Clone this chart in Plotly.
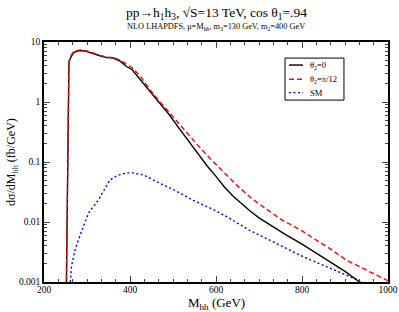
import plotly.graph_objects as go

# Black: theta2 = 0
x_black = [252, 258, 262, 268, 275, 285, 300, 315, 330, 346, 361, 377, 392, 405, 423, 447, 465, 490,
           516, 547, 580, 600, 620, 640, 660, 680, 700, 730, 760, 800, 850, 900, 940]
y_black = [0.0008, 4.6, 5.5, 6.5, 7.0, 7.2, 6.9, 6.3, 5.9, 5.5, 5.4, 4.8, 3.9, 3.45, 2.4, 1.48, 1.07, 0.63,
           0.35, 0.174, 0.085, 0.0575, 0.038, 0.0269, 0.020, 0.0151, 0.01175, 0.0085, 0.0063, 0.00427,
           0.0025, 0.0015, 0.00093]

# Red: theta2 = pi/12
x_red = [252, 258, 262, 268, 275, 285, 300, 315, 330, 346, 361, 377, 392, 405, 423, 447, 470, 500, 530,
         555, 590, 620, 650, 687, 702, 750, 800, 834, 870, 904, 950, 1000]
y_red = [0.0008, 4.7, 5.8, 6.8, 7.2, 7.4, 7.1, 6.5, 6.0, 5.6, 5.5, 5.0, 4.2, 3.7, 2.75, 1.58, 1.0, 0.56, 0.32,
         0.2, 0.107, 0.066, 0.04, 0.0234, 0.0195, 0.0112, 0.0071, 0.005, 0.0034, 0.0023, 0.0016, 0.00105]

# Blue: SM
x_sm = [258, 262, 264, 268, 272, 280, 288, 298, 307, 315, 326, 340, 353, 369, 380, 392, 405, 431, 470, 500,
        547, 590, 625, 679, 702, 750, 795, 822, 872, 927, 940]
y_sm = [0.0005, 0.0011, 0.0018, 0.0025, 0.0034, 0.005, 0.0074, 0.0112, 0.0158, 0.018, 0.023, 0.035, 0.05,
        0.059, 0.063, 0.066, 0.066, 0.061, 0.044, 0.035, 0.023, 0.0166, 0.0123, 0.0072, 0.006, 0.004, 0.0028,
        0.0023, 0.0016, 0.0011, 0.00095]

names = ["θ<sub>2</sub>=0", "θ<sub>2</sub>=π/12", "SM"]
colors = ["black", "#ff0000", "#0000ff"]
dashes = ["solid", "5px,3px", "2px,2.5px"]
widths = [1.4, 1.4, 1.4]
y_tickvals = [0.001, 0.01, 0.1, 1, 10]
y_ticktext = ["0.001", "0.01", "0.1", "1", "10"]
x_tickvals = [200, 400, 600, 800, 1000]

FONT = "Liberation Serif, Times New Roman, serif"

fig = go.Figure()
for xs, ys, nm, c, d, w in zip([x_black, x_red, x_sm], [y_black, y_red, y_sm], names, colors, dashes, widths):
    fig.add_trace(go.Scatter(x=xs, y=ys, mode="lines", name=nm, showlegend=False,
                             line=dict(color=c, width=w, dash=d)))

# Manual legend (box, sample lines, labels) in paper coordinates
shapes = [dict(type="rect", xref="paper", yref="paper", x0=0.7006, x1=0.872, y0=0.758, y1=0.933,
               line=dict(color="black", width=1), fillcolor="white", layer="above")]
annotations = []
leg_y = [0.904, 0.845, 0.789]
for nm, c, d, yy in zip(names, colors, dashes, leg_y):
    shapes.append(dict(type="line", xref="paper", yref="paper", x0=0.712, x1=0.753, y0=yy, y1=yy,
                       line=dict(color=c, width=1.4, dash=d), layer="above"))
    annotations.append(dict(text=nm, xref="paper", yref="paper", x=0.768, y=yy, xanchor="left",
                            yanchor="middle", showarrow=False, font=dict(size=8.5, family=FONT)))

annotations += [
    dict(text="pp→h<sub>1</sub>h<sub>3</sub>, √S=13 TeV, cos θ<sub>1</sub>=.94",
         xref="paper", yref="paper", x=0.5, y=1, yshift=29, xanchor="center", yanchor="middle",
         showarrow=False, font=dict(size=13.5, family=FONT)),
    dict(text="NLO LHAPDFS, μ=M<sub>hh</sub>, m<sub>3</sub>=130 GeV, m<sub>2</sub>=400 GeV",
         xref="paper", yref="paper", x=0.5, y=1, yshift=15, xanchor="center", yanchor="middle",
         showarrow=False, font=dict(size=8.3, family=FONT)),
    dict(text="M<sub>hh</sub> (GeV)", xref="paper", yref="paper", x=0.5, y=0, yshift=-11,
         xanchor="center", yanchor="top", showarrow=False, font=dict(size=13, family=FONT)),
    dict(text="dσ/dM<sub>hh</sub> (fb/GeV)", xref="paper", yref="paper", x=0, y=0.5, xshift=-32,
         xanchor="center", yanchor="middle", textangle=-90, showarrow=False,
         font=dict(size=12, family=FONT)),
]

fig.update_layout(
    width=399, height=312,
    margin=dict(l=44, r=11, t=42, b=30, autoexpand=False),
    paper_bgcolor="white", plot_bgcolor="white",
    font=dict(family=FONT, color="black", size=9.5),
    showlegend=False,
    shapes=shapes,
    annotations=annotations,
)

fig.update_xaxes(range=[200, 1000], tickvals=x_tickvals, ticks="inside", ticklen=6,
                 showline=True, linecolor="black", linewidth=1.5, mirror="allticks",
                 showgrid=False, zeroline=False, tickfont=dict(size=9.5, family=FONT),
                 automargin=False, ticklabelstandoff=-2,
                 minor=dict(dtick=200/6, ticks="inside", ticklen=3, showgrid=False))
fig.update_yaxes(type="log", range=[-3, 1], tickvals=y_tickvals, ticktext=y_ticktext,
                 ticks="inside", ticklen=6,
                 showline=True, linecolor="black", linewidth=1.5, mirror="allticks",
                 showgrid=False, zeroline=False, tickfont=dict(size=9.5, family=FONT),
                 automargin=False,
                 minor=dict(dtick="D1", ticks="inside", ticklen=3, showgrid=False))

fig.write_html("out.html", config={"displayModeBar": False},
               post_script="document.body.style.margin='0';document.body.style.overflow='hidden';")
